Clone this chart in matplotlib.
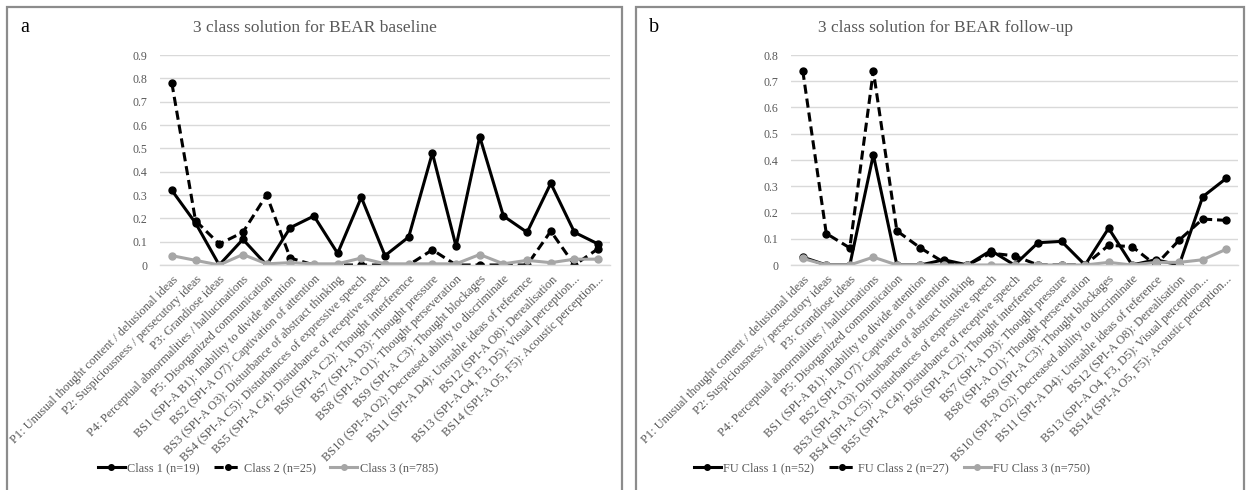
import matplotlib
matplotlib.use('Agg')
import matplotlib.pyplot as plt
from matplotlib.patches import Rectangle

plt.rcParams['font.family'] = ['Liberation Serif', 'DejaVu Serif']

# item labels (same for both panels)
items = [
    'P1: Unusual thought content / delusional ideas',
    'P2: Suspiciousness / persecutory ideas',
    'P3: Grandiose ideas',
    'P4: Perceptual abnormalities / hallucinations',
    'P5: Disorganized communication',
    'BS1 (SPI-A B1): Inability to divide attention',
    'BS2 (SPI-A O7): Captivation of attention',
    'BS3 (SPI-A O3): Disturbance of abstract thinking',
    'BS4 (SPI-A C5): Disturbances of expressive speech',
    'BS5 (SPI-A C4): Disturbance of receptive speech',
    'BS6 (SPI-A C2): Thought interference',
    'BS7 (SPI-A D3): Thought pressure',
    'BS8 (SPI-A O1): Thought perseveration',
    'BS9 (SPI-A C3): Thought blockages',
    'BS10 (SPI-A O2): Decreased ability to discriminate',
    'BS11 (SPI-A D4): Unstable ideas of reference',
    'BS12 (SPI-A O8): Derealisation',
    'BS13 (SPI-A O4, F3, D5): Visual perception...',
    'BS14 (SPI-A O5, F5): Acoustic perception...',
]

# panel a - baseline
base_c1 = [0.32, 0.18, 0.0, 0.11, 0.0, 0.16, 0.21, 0.05, 0.29, 0.04,
           0.12, 0.48, 0.08, 0.55, 0.21, 0.14, 0.35, 0.14, 0.09]
base_c2 = [0.78, 0.19, 0.09, 0.14, 0.30, 0.03, 0.0, 0.0, 0.0, 0.0,
           0.0, 0.065, 0.0, 0.0, 0.0, 0.0, 0.145, 0.0, 0.07]
base_c3 = [0.04, 0.02, 0.0, 0.045, 0.005, 0.01, 0.005, 0.005, 0.03, 0.005,
           0.005, 0.005, 0.005, 0.045, 0.005, 0.02, 0.01, 0.025, 0.025]
base_names = ['Class 1 (n=19)', 'Class 2 (n=25)', 'Class 3 (n=785)']

# panel b - follow-up
fu_c1 = [0.03, 0.0, 0.0, 0.42, 0.0, 0.0, 0.02, 0.0, 0.055, 0.0,
         0.085, 0.09, 0.0, 0.14, 0.0, 0.02, 0.0, 0.26, 0.33]
fu_c2 = [0.74, 0.12, 0.065, 0.74, 0.13, 0.065, 0.01, 0.0, 0.045, 0.035,
         0.0, 0.0, 0.0, 0.075, 0.07, 0.0, 0.095, 0.175, 0.17]
fu_c3 = [0.025, 0.0, 0.0, 0.03, 0.0, 0.0, 0.0, 0.0, 0.0, 0.0,
         0.0, 0.0, 0.0, 0.01, 0.0, 0.01, 0.01, 0.02, 0.06]
fu_names = ['FU Class 1 (n=52)', 'FU Class 2 (n=27)', 'FU Class 3 (n=750)']

W, H = 1250, 490
fig = plt.figure(figsize=(W / 100, H / 100), dpi=100)

txt_gray = '#595959'
grid_gray = '#d9d9d9'


def panel(box, axbox, letter, title, title_x, series, names, ymax, legend_x):
    x0, x1 = box
    fig.patches.append(Rectangle((x0 / W, -0.02), (x1 - x0) / W, 1 - 7 / H + 0.02,
                                 transform=fig.transFigure, fill=False,
                                 edgecolor='#8c8c8c', linewidth=1.6))
    fig.text((x0 + 13) / W, 1 - 28 / H, letter, fontsize=14.5, va='center', ha='left')
    fig.text(title_x / W, 1 - 28 / H, title, fontsize=12.5, color=txt_gray,
             va='center', ha='center')

    left, right = axbox
    ax = fig.add_axes([left / W, 1 - 265 / H, (right - left) / W, 210 / H])
    xs = list(range(len(items)))
    styles = [dict(color='black', linestyle='-'),
              dict(color='black', linestyle=(0, (3, 1.6))),
              dict(color='#a6a6a6', linestyle='-')]
    handles = []
    for vals, st, nm in zip(series, styles, names):
        h, = ax.plot(xs, vals, linewidth=2.2, marker='o', markersize=5,
                     label=nm, **st)
        handles.append(h)
    ax.set_xlim(-0.5, len(items) - 0.5)
    ax.set_ylim(0, ymax)
    ticks = [i / 10 for i in range(int(round(ymax * 10)) + 1)]
    ax.set_yticks(ticks)
    ax.set_yticklabels(['0' if t == 0 else ('%.1f' % t) for t in ticks])
    ax.yaxis.grid(True, color=grid_gray, linewidth=1)
    ax.set_axisbelow(True)
    for s in ['top', 'right', 'left']:
        ax.spines[s].set_visible(False)
    ax.spines['bottom'].set_color(grid_gray)
    ax.spines['bottom'].set_linewidth(1)
    ax.set_xticks(xs)
    ax.set_xticklabels(items, rotation=45, ha='right', rotation_mode='anchor',
                       fontsize=8.9, color=txt_gray)
    ax.tick_params(axis='both', length=0)
    ax.tick_params(axis='y', labelsize=8.6, labelcolor=txt_gray, pad=9)
    ax.tick_params(axis='x', pad=6)
    ax.set_facecolor('none')

    leg = fig.legend(handles, names, loc='center', bbox_to_anchor=(legend_x / W, 1 - 468 / H),
                     ncol=3, frameon=False, fontsize=8.8, handlelength=2.2,
                     columnspacing=1.2, handletextpad=0.2, markerscale=0.8)
    for t in leg.get_texts():
        t.set_color(txt_gray)
    return ax


panel((7, 622), (160, 610), 'a', '3 class solution for BEAR baseline', 315,
      [base_c1, base_c2, base_c3], base_names, 0.9, 268)
panel((636, 1244), (791, 1238), 'b', '3 class solution for BEAR follow-up', 945,
      [fu_c1, fu_c2, fu_c3], fu_names, 0.8, 892)

fig.savefig('out.png', dpi=100)
